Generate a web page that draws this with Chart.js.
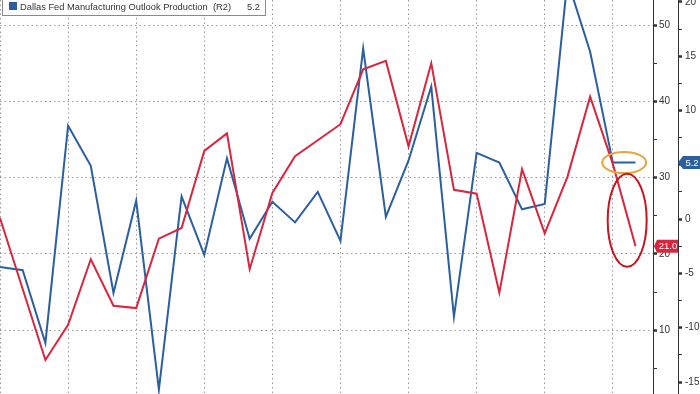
<!DOCTYPE html>
<html>
<head>
<meta charset="utf-8">
<script src="https://cdn.jsdelivr.net/npm/chart.js@4.4.1/dist/chart.umd.min.js"></script>
<style>
   html, body { margin:0; padding:0; background:#fff; }
   #wrap { width:700px; height:394px; }
</style>
</head>
<body>
<div id="wrap"><canvas id="chart" width="700" height="394"></canvas></div>
<script>
// monthly periods, only every 3rd gets a vertical grid line
const periods = ['P1','P2','P3','P4','P5','P6','P7','P8','P9','P10','P11','P12','P13','P14','P15',
   'P16','P17','P18','P19','P20','P21','P22','P23','P24','P25','P26','P27','P28','P29'];

// Dallas Fed Manufacturing Outlook Production (R2) - blue
const productionValues = [-4.4, -4.7, -11.4, 8.6, 4.9, -6.8, 1.7, -15.7, 2.1, -3.3, 5.6, -1.8, 1.6, -0.3, 2.5,
   -2.0, 15.7, 0.2, 5.4, 12.2, -9.0, 6.1, 5.2, 0.9, 1.4, 22.0, 15.4, 5.2, 5.2];

// left series (L1) - red
const leftValues = [24.7, 15.4, 6.1, 10.7, 19.3, 13.2, 12.9, 22.0, 23.4, 33.5, 35.8, 18.0, 28.0, 32.8, 34.9,
   37.0, 44.2, 45.3, 34.1, 45.0, 28.4, 27.9, 14.9, 31.1, 22.7, 30.1, 40.6, 31.8, 21.0];

const leftTicks = [10, 20, 30, 40, 50];
const rightTicks = [-15, -10, -5, 0, 5, 10, 15, 20];

const BLUE = '#2c5f9e';
const RED = '#d7263d';
const TEXT = '#333';

Chart.defaults.font.family = "'Liberation Sans', Arial, sans-serif";
Chart.defaults.font.size = 10;
Chart.defaults.color = TEXT;

function withMinors(majors){
   //add a small tick half way between each pair of labelled ticks
   let all = [];
   let step = majors[1] - majors[0];
   all.push(majors[0] - step / 2);
   majors.forEach((v) => {
      all.push(v);
      all.push(v + step / 2);
   });
   return all.sort((a, b) => a - b);
}

function isMajor(list, value){
   return list.includes(value);
}

const overlay = {
   id: 'overlay',
   afterDatasetsDraw(chart){
      // hand drawn rings round the last readings
      let ctx = chart.ctx;
      let x = chart.scales.x;
      let last = periods.length - 1;
      let bx = (x.getPixelForValue(last - 1) + x.getPixelForValue(last)) / 2;
      let by = chart.scales.y2.getPixelForValue(productionValues[last]);
      let ry = chart.scales.y.getPixelForValue(leftValues[last]);

      ctx.save();
      ctx.lineWidth = 2;
      ctx.strokeStyle = '#e9a53c';
      ctx.beginPath();
      ctx.ellipse(bx, by, 22, 10.5, 0, 0, Math.PI * 2);
      ctx.stroke();

      ctx.strokeStyle = '#c3161f';
      ctx.beginPath();
      ctx.ellipse(bx + 3, ry - 26, 19.5, 46.5, 0, 0, Math.PI * 2);
      ctx.stroke();
      ctx.restore();
   },
   afterDraw(chart){
      let ctx = chart.ctx;
      let last = periods.length - 1;
      let yL = chart.scales.y;
      let yR = chart.scales.y2;

      function drawTag(tipX, boxLeft, boxRight, y, fill, text){
         let h = 13;
         ctx.fillStyle = fill;
         ctx.beginPath();
         ctx.moveTo(tipX, y);
         ctx.lineTo(boxLeft, y - h / 2);
         ctx.lineTo(boxRight, y - h / 2);
         ctx.lineTo(boxRight, y + h / 2);
         ctx.lineTo(boxLeft, y + h / 2);
         ctx.closePath();
         ctx.fill();
         ctx.fillStyle = '#fff';
         ctx.font = "9.5px 'Liberation Sans', Arial, sans-serif";
         ctx.textAlign = 'center';
         ctx.textBaseline = 'middle';
         ctx.fillText(text, (boxLeft + boxRight) / 2 + 0.5, y + 0.5);
      }

      ctx.save();
      drawTag(yL.left + 1, yL.left + 4, yL.right, yL.getPixelForValue(leftValues[last]), RED, leftValues[last].toFixed(1));
      drawTag(yR.left, yR.left + 5, yR.right, yR.getPixelForValue(productionValues[last]), BLUE, productionValues[last].toFixed(1));

      // legend box, top row sits above the picture
      ctx.fillStyle = '#fff';
      ctx.strokeStyle = '#8a8a8a';
      ctx.lineWidth = 1;
      ctx.fillRect(2.5, -8, 263, 23.5);
      ctx.strokeRect(2.5, -8, 263, 23.5);
      ctx.fillStyle = BLUE;
      ctx.fillRect(9, 2, 8, 8);
      ctx.fillStyle = TEXT;
      ctx.font = "9.3px 'Liberation Sans', Arial, sans-serif";
      ctx.textAlign = 'left';
      ctx.textBaseline = 'middle';
      ctx.fillText('Dallas Fed Manufacturing Outlook Production', 20, 7);
      ctx.fillText('(R2)', 213, 7);
      ctx.textAlign = 'right';
      ctx.fillText(productionValues[last].toFixed(1), 260, 7);
      ctx.restore();
   }
};

const leftAll = withMinors(leftTicks);
const rightAll = withMinors(rightTicks);

new Chart(document.getElementById('chart'), {
   type: 'line',
   data: {
      datasets: [{
         label: 'Dallas Fed Manufacturing Outlook Production (R2)',
         data: productionValues.map((v, i) => ({x: i, y: v})),
         yAxisID: 'y2',
         borderColor: BLUE,
         borderWidth: 2,
         pointRadius: 0,
         tension: 0,
         order: 1
      }, {
         label: 'L1',
         data: leftValues.map((v, i) => ({x: i, y: v})),
         yAxisID: 'y',
         borderColor: RED,
         borderWidth: 2,
         pointRadius: 0,
         tension: 0,
         order: 0
      }]
   },
   options: {
      responsive: false,
      animation: false,
      devicePixelRatio: 1,
      layout: { padding: 0 },
      plugins: { legend: { display: false }, tooltip: { enabled: false } },
      scales: {
         x: {
            type: 'linear',
            min: 0,
            max: periods.length - 1 + 0.77,
            afterBuildTicks: (scale) => {
               scale.ticks = periods.map((p, i) => i).filter((i) => i % 3 === 0).map((v) => ({value: v}));
            },
            afterFit: (scale) => {
               scale.height = 0;
               scale.paddingLeft = 0;
               scale.paddingRight = 0;
            },
            ticks: { display: false },
            grid: { color: '#999', lineWidth: 1, drawTicks: false },
            border: { display: false, dash: [1.5, 3] }
         },
         y: {
            position: 'right',
            weight: 0,
            min: 1.64,
            max: 53.28,
            afterBuildTicks: (scale) => {
               scale.ticks = leftAll.map((v) => ({value: v}));
            },
            afterFit: (scale) => {
               scale.width = 25;
               scale.paddingTop = 0;
               scale.paddingBottom = 0;
            },
            ticks: {
               autoSkip: false,
               padding: 2,
               color: TEXT,
               callback: (v) => isMajor(leftTicks, v) ? String(v) : ''
            },
            grid: {
               color: (ctx) => ctx.tick && isMajor(leftTicks, ctx.tick.value) ? '#999' : 'rgba(0,0,0,0)',
               tickColor: '#333',
               tickLength: 4,
               tickWidth: (ctx) => ctx.tick && isMajor(leftTicks, ctx.tick.value) ? 2.5 : 1
            },
            border: { display: true, color: '#333', width: 1, dash: [1.5, 3] }
         },
         y2: {
            position: 'right',
            weight: 1,
            min: -16.1,
            max: 20.17,
            afterBuildTicks: (scale) => {
               scale.ticks = rightAll.filter((v) => v >= -16.1 && v <= 20.17).map((v) => ({value: v}));
            },
            afterFit: (scale) => {
               scale.width = 22;
               scale.paddingTop = 0;
               scale.paddingBottom = 0;
            },
            ticks: {
               autoSkip: false,
               padding: 3,
               color: TEXT,
               callback: (v) => isMajor(rightTicks, v) ? String(v) : ''
            },
            grid: {
               drawOnChartArea: false,
               tickColor: '#333',
               tickLength: 4,
               tickWidth: (ctx) => ctx.tick && isMajor(rightTicks, ctx.tick.value) ? 2.5 : 1
            },
            border: { display: true, color: '#333', width: 1 }
         }
      }
   },
   plugins: [overlay]
});
</script>
</body>
</html>
